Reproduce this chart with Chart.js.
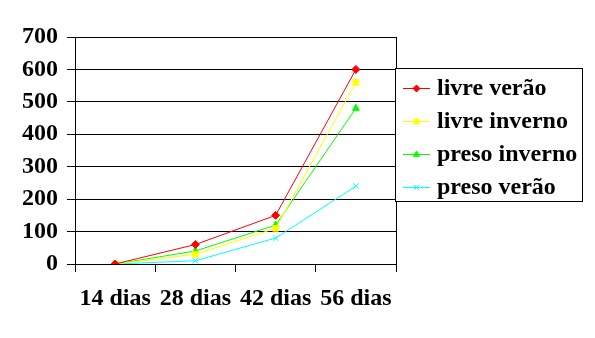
<!DOCTYPE html>
<html>
<head>
<meta charset="utf-8">
<script src="https://cdn.jsdelivr.net/npm/chart.js@4/dist/chart.umd.min.js"></script>
<style>
  html, body { margin: 0; padding: 0; background: #fff; }
  #wrap { width: 595px; height: 338px; }
</style>
</head>
<body>
<div id="wrap"><canvas id="c" width="595" height="338"></canvas></div>
<script>
const categories = ['14 dias', '28 dias', '42 dias', '56 dias'];
const seriesNames = ['livre verão', 'livre inverno', 'preso inverno', 'preso verão'];
const livreVerao = [0, 60, 150, 600];
const livreInverno = [0, 30, 110, 560];
const presoInverno = [0, 40, 120, 480];
const presoVerao = [0, 10, 80, 240];
const yTicks = [0, 100, 200, 300, 400, 500, 600, 700];

const FONT = '"Liberation Serif", "Times New Roman", serif';

function series(label, data, color, style, radius) {
  return {
    label, data,
    borderColor: color, backgroundColor: color,
    borderWidth: 1, pointStyle: style, pointRadius: radius,
    pointBorderWidth: 1, pointHoverRadius: radius, tension: 0
  };
}

// Frame around the plot plus a boxed legend overlapping the right edge
const framePlugin = {
  id: 'frameAndLegend',
  afterDraw(chart) {
    const ctx = chart.ctx;
    const a = chart.chartArea;
    ctx.save();
    ctx.strokeStyle = '#000';
    ctx.lineWidth = 1;
    ctx.strokeRect(Math.round(a.left) + 0.5, Math.round(a.top) + 0.5,
                   Math.round(a.right - a.left), Math.round(a.bottom - a.top));
    const bx = 395, by = 68, bw = 187, bh = 133;
    ctx.fillStyle = '#fff';
    ctx.fillRect(bx, by, bw, bh);
    ctx.strokeRect(bx + 0.5, by + 0.5, bw, bh);
    ctx.font = 'bold 24px ' + FONT;
    ctx.textBaseline = 'middle';
    chart.data.datasets.forEach((ds, i) => {
      const y = 88 + i * 33;
      ctx.strokeStyle = ds.borderColor;
      ctx.fillStyle = ds.borderColor;
      ctx.beginPath();
      ctx.moveTo(403, y + 0.5);
      ctx.lineTo(430, y + 0.5);
      ctx.stroke();
      Chart.helpers.drawPoint(ctx, {
        pointStyle: ds.pointStyle, radius: ds.pointRadius - 0.5, borderWidth: 1
      }, 416.5, y + 0.5);
      ctx.fillStyle = '#000';
      ctx.fillText(ds.label, 437, y + 1);
    });
    ctx.restore();
  }
};

new Chart(document.getElementById('c'), {
  type: 'line',
  data: {
    labels: categories,
    datasets: [
      series(seriesNames[0], livreVerao, '#FF0000', 'rectRot', 4),
      series(seriesNames[1], livreInverno, '#FFFF00', 'rect', 4),
      series(seriesNames[2], presoInverno, '#00FF00', 'triangle', 4),
      series(seriesNames[3], presoVerao, '#00FFFF', 'crossRot', 4)
    ]
  },
  options: {
    responsive: false,
    animation: false,
    devicePixelRatio: 1,
    layout: { padding: { left: 0, top: 37, right: 199, bottom: 0 } },
    plugins: { legend: { display: false }, tooltip: { enabled: false } },
    scales: {
      x: {
        offset: true,
        grid: { offset: true, drawOnChartArea: false, color: '#000', tickLength: 8, lineWidth: 1 },
        border: { color: '#000', width: 1 },
        ticks: { color: '#000', padding: 12, font: { family: FONT, size: 24, weight: 'bold' }, maxRotation: 0 },
        afterFit(s) { s.height = 74; }
      },
      y: {
        min: 0, max: 700,
        afterBuildTicks(s) { s.ticks = yTicks.map(v => ({ value: v })); },
        grid: { color: '#000', tickLength: 8, lineWidth: 1 },
        border: { color: '#000', width: 1 },
        ticks: { color: '#000', padding: 9, font: { family: FONT, size: 24, weight: 'bold' } },
        afterFit(s) { s.width = 75; }
      }
    }
  },
  plugins: [framePlugin]
});
</script>
</body>
</html>
